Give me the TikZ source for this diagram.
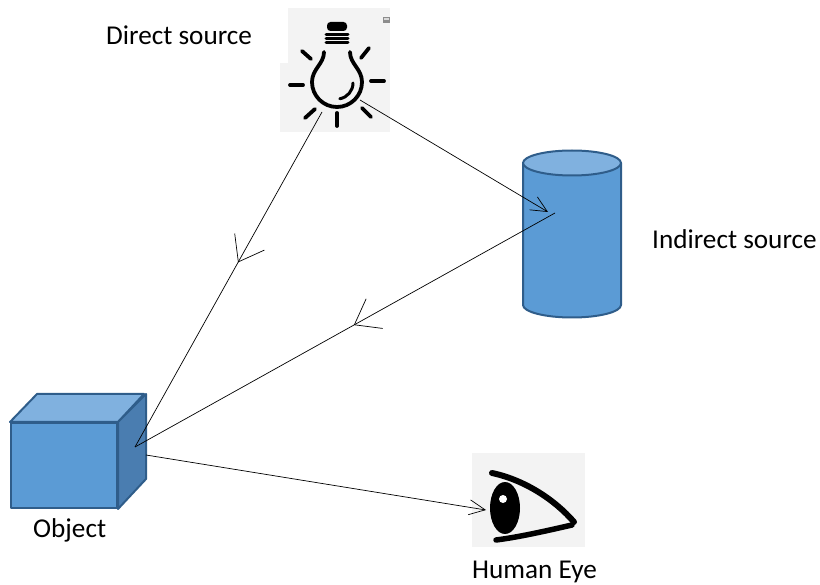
\documentclass[tikz,border=0pt]{standalone}
\usepackage{fontspec}
\setmainfont{Carlito}
\usetikzlibrary{arrows.meta,decorations.markings}

\definecolor{boxblue}{HTML}{5B9BD5}
\definecolor{boxtop}{HTML}{80B1DF}
\definecolor{boxside}{HTML}{4A7DB0}
\definecolor{boxline}{HTML}{2F5D8A}
\definecolor{picbg}{HTML}{F3F3F3}

\begin{document}
\begin{tikzpicture}[x=1pt,y=-1pt]

  \useasboundingbox (0,0) rectangle (820,585);

  % node styles
  \tikzstyle{Label}=[font=\fontsize{27.2}{31}\selectfont,inner sep=0pt,anchor=base west]
  \tikzstyle{Solid}=[draw=boxline,line width=2pt,line join=round]
  \tikzstyle{Ink}=[line width=3.8pt,line cap=round]
  \tikzstyle{Beam}=[draw,line width=0.7pt,-{Straight Barb[length=16pt,width=15pt]}]
  \tikzset{MidBeam/.style={draw,line width=0.7pt,postaction={decorate},
      decoration={markings,mark=at position #1 with
        {\arrow{Straight Barb[length=23pt,width=34pt]}}}}}

  % lamp
  \fill[picbg] (288,8) rectangle (390,132);
  \fill[picbg] (280,63) rectangle (390,132);
  \fill[black!45] (383,17) rectangle (390,23);
  \fill[black!15] (384,18) rectangle (389,20);
  \fill[rounded corners=3.5pt] (327,31) rectangle (347,22);
  \foreach \y in {34.5,38.5,42.5}
    \draw[line width=3pt,line cap=round] (326,\y) -- (348,\y);
  \draw[Ink] (324,52) .. controls (324,64) and (312,69) .. (312,82)
    arc[start angle=180,end angle=360,radius=25pt]
    .. controls (362,69) and (350,64) .. (350,52);
  \draw[line width=3pt,line cap=round] (353,83) arc[start angle=0,end angle=-80,radius=16pt];
  \draw[Ink] (290,85) -- (303,85);
  \draw[Ink] (371,81) -- (384,81);
  \draw[Ink] (302,51) -- (311,59);
  \draw[Ink] (361,58) -- (369,48);
  \draw[Ink] (305,118) -- (315,109);
  \draw[Ink] (337,113) -- (337,126);
  \draw[Ink] (362,108) -- (371,117);
  \node[inner sep=0pt,minimum size=100pt] (B) at (337,70) {};
  \coordinate (Bl) at (322,112);
  \coordinate (Br) at (360,100);

  % cylinder
  \filldraw[Solid,fill=boxblue] (523,163) -- (523,305)
    arc[start angle=180,end angle=360,x radius=49pt,y radius=12.5pt] -- (621,163) -- cycle;
  \filldraw[Solid,fill=boxtop] (572,163) ellipse[x radius=49pt,y radius=12.5pt];
  \coordinate (Cin) at (548,212);
  \coordinate (Cout) at (555,213);

  % cube
  \node[Solid,fill=boxblue,inner sep=0pt,minimum width=106pt,minimum height=85pt] (O) at (64,465.5) {};
  \filldraw[Solid,fill=boxtop] (O.north west) -- ++(27,-28) -- ++(107,0) -- (O.north east) -- cycle;
  \filldraw[Solid,fill=boxside] (O.north east) -- ++(28,-28) -- ++(0,85) -- (O.south east) -- cycle;
  \coordinate (Oin) at (135,447);
  \coordinate (Oout) at (146,455);

  % eye
  \fill[picbg] (472,453) rectangle (585,547);
  \draw[line width=6pt,line cap=round] (492,473) .. controls (525,480) and (555,500) .. (574,522);
  \draw[line width=5.5pt,line cap=round] (496,540) .. controls (520,537) and (550,530) .. (572,525);
  \fill (505,508) ellipse[x radius=15pt,y radius=26pt];
  \fill[white] (503,499) circle[radius=4pt];
  \coordinate (E) at (486,510);

  % rays
  \draw[MidBeam=0.449] (Bl) -- (Oin);
  \draw[Beam] (Br) -- (Cin);
  \draw[MidBeam=0.479] (Cout) -- (Oin);
  \draw[Beam] (Oout) -- (E);

  % labels
  \node[Label] (Ld) at (106,44.3) {Direct source};
  \node[Label] (Li) at (652,248.3) {Indirect source};
  \node[Label] (Lo) at (33,537) {Object};
  \node[Label] (Le) at (472,578.7) {Human Eye};

\end{tikzpicture}
\end{document}
